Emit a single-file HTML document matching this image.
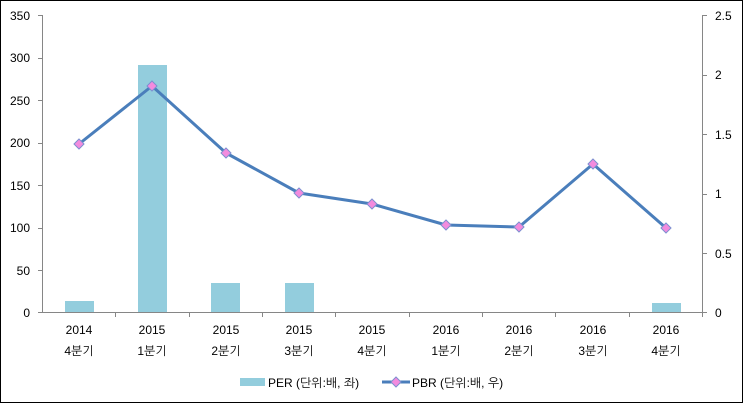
<!DOCTYPE html>
<html><head><meta charset="utf-8"><style>
html,body{margin:0;padding:0;background:#fff}
svg{display:block}
text{font-family:"Liberation Sans","NanumGothic","Noto Sans CJK KR",sans-serif;font-size:12px;fill:#000}
</style></head><body>
<svg width="743" height="403" xmlns="http://www.w3.org/2000/svg">
<rect x="0.5" y="0.5" width="742" height="402" fill="#fff" stroke="#000" stroke-width="1"/>
<g fill="#93CDDD">
<rect x="65" y="301" width="29" height="12"/>
<rect x="138" y="65" width="29" height="248"/>
<rect x="211" y="283" width="29" height="30"/>
<rect x="285" y="283" width="29" height="30"/>
<rect x="652" y="303" width="29" height="10"/>
</g>
<g stroke="#868686" stroke-width="1" fill="none">
<line x1="42.5" y1="15" x2="42.5" y2="313"/>
<line x1="702.5" y1="15" x2="702.5" y2="313"/>
<line x1="38" y1="312.5" x2="707" y2="312.5"/>
<path d="M38 15.5h4M38 58.5h4M38 100.5h4M38 143.5h4M38 185.5h4M38 228.5h4M38 270.5h4"/>
<path d="M703 15.5h4M703 75.5h4M703 134.5h4M703 194.5h4M703 253.5h4"/>
<path d="M115.5 313v4M189.5 313v4M262.5 313v4M335.5 313v4M409.5 313v4M482.5 313v4M555.5 313v4M629.5 313v4M702.5 313v4"/>
</g>
<g text-anchor="end">
<text x="30" y="20">350</text><text x="30" y="62">300</text><text x="30" y="105">250</text>
<text x="30" y="147">200</text><text x="30" y="190">150</text><text x="30" y="232">100</text>
<text x="30" y="275">50</text><text x="30" y="317">0</text>
</g>
<g>
<text x="715" y="20">2.5</text><text x="715" y="79">2</text><text x="715" y="139">1.5</text>
<text x="715" y="198">1</text><text x="715" y="258">0.5</text><text x="715" y="317">0</text>
</g>
<g text-anchor="middle">
<text x="79" y="334">2014</text><text x="79" y="355">4분기</text>
<text x="152" y="334">2015</text><text x="152" y="355">1분기</text>
<text x="226" y="334">2015</text><text x="226" y="355">2분기</text>
<text x="299" y="334">2015</text><text x="299" y="355">3분기</text>
<text x="372" y="334">2015</text><text x="372" y="355">4분기</text>
<text x="446" y="334">2016</text><text x="446" y="355">1분기</text>
<text x="519" y="334">2016</text><text x="519" y="355">2분기</text>
<text x="593" y="334">2016</text><text x="593" y="355">3분기</text>
<text x="666" y="334">2016</text><text x="666" y="355">4분기</text>
</g>
<polyline points="79,144 152,86 226,153 299,193 372,204 446,225 519,227 593,164 666,228" fill="none" stroke="#4A7EBB" stroke-width="3" stroke-linejoin="round"/>
<g fill="#F38BDE" stroke="#7D8FD0" stroke-width="1">
<path d="M79 139l5 5-5 5-5-5z"/><path d="M152 81l5 5-5 5-5-5z"/><path d="M226 148l5 5-5 5-5-5z"/>
<path d="M299 188l5 5-5 5-5-5z"/><path d="M372 199l5 5-5 5-5-5z"/><path d="M446 220l5 5-5 5-5-5z"/>
<path d="M519 222l5 5-5 5-5-5z"/><path d="M593 159l5 5-5 5-5-5z"/><path d="M666 223l5 5-5 5-5-5z"/>
</g>
<rect x="240" y="378" width="25" height="8" fill="#93CDDD"/>
<text x="268" y="387">PER (단위:배, 좌)</text>
<line x1="382" y1="382" x2="410" y2="382" stroke="#4A7EBB" stroke-width="3"/>
<path d="M396 377l5 5-5 5-5-5z" fill="#F38BDE" stroke="#7D8FD0" stroke-width="1"/>
<text x="412" y="387">PBR (단위:배, 우)</text>
</svg>
</body></html>
